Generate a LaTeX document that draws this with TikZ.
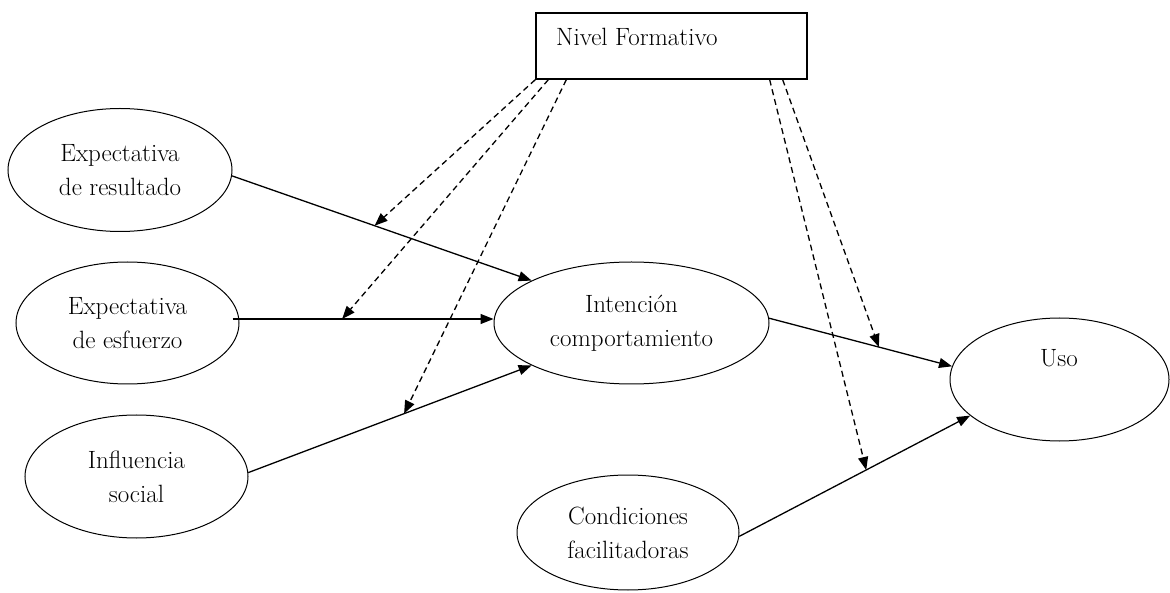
\documentclass[tikz,border=0pt]{standalone}
\usetikzlibrary{shapes.geometric,arrows.meta}
\begin{document}
\begin{tikzpicture}[x=1pt,y=-1pt,
  oval/.style={draw, ellipse, line width=1pt, inner sep=0pt, align=center,
    font=\fontsize{25}{34}\selectfont},
  lbl/.style={inner sep=0pt, font=\fontsize{25}{34}\selectfont},
  boxnode/.style={draw, line width=1.3pt, inner sep=0pt},
  conn/.style={line width=1.3pt, -{Triangle[length=13pt,width=10pt]}},
  modarrow/.style={conn, dash pattern=on 6pt off 4pt}]
\useasboundingbox (0,0) rectangle (1170,593);

\node[oval, minimum width=224pt, minimum height=123pt] (er) at (120,170) {Expectativa\\de resultado};
\node[oval, minimum width=223pt, minimum height=122pt] (ee) at (127.5,323) {Expectativa\\de esfuerzo};
\node[oval, minimum width=223pt, minimum height=123pt] (is) at (136.5,476.5) {Influencia\\social};
\node[oval, minimum width=275pt, minimum height=122pt] (ic) at (631.5,323) {Intención\\comportamiento};
\node[oval, minimum width=222pt, minimum height=115pt] (cf) at (628,532.5) {Condiciones\\facilitadoras};
\node[oval, minimum width=219pt, minimum height=123pt] (uso) at (1059.5,379.5) {};
\node[lbl] (usot) at (1059,358) {Uso};
\node[boxnode, minimum width=271pt, minimum height=66pt] (nf) at (671.5,46) {};
\node[lbl, anchor=west] (nft) at (556,37) {Nivel Formativo};

\draw[conn] (er.-3.6) -- coordinate[pos=0.476] (m1) (ic.157.5);
\draw[conn] ([xshift=-7pt,yshift=4pt]ee.east) -- coordinate[pos=0.42] (m2) ([yshift=4pt]ic.west);
\draw[conn] (is.2.8) -- coordinate[pos=0.55] (m3) (ic.203.4);
\draw[conn] (ic.2) -- coordinate[pos=0.60] (m4) (uso.173);
\draw[conn] (cf.-2.6) -- coordinate[pos=0.55] (m5) (uso.202.3);

\draw[modarrow] (nf.south west) -- (m1);
\draw[modarrow] ([xshift=13pt]nf.south west) -- (m2);
\draw[modarrow] ([xshift=31pt]nf.south west) -- (m3);
\draw[modarrow] ([xshift=-38pt]nf.south east) -- (m5);
\draw[modarrow] ([xshift=-25pt]nf.south east) -- (m4);
\end{tikzpicture}
\end{document}
